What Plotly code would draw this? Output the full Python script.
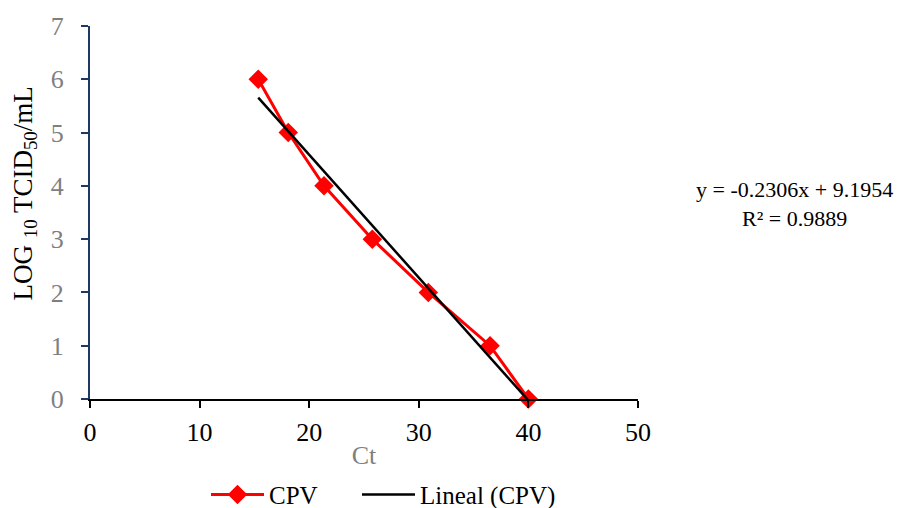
import plotly.graph_objects as go

# Data
ct_values = [15.35, 18.09, 21.35, 25.76, 30.87, 36.5, 40.0]
log_titer = [6, 5, 4, 3, 2, 1, 0]

# Linear trendline reported on the chart
slope = -0.2306
intercept = 9.1954
r_squared = 0.9889

x_ticks = [0, 10, 20, 30, 40, 50]
y_ticks = [0, 1, 2, 3, 4, 5, 6, 7]

trend_x = [min(ct_values), max(ct_values)]
trend_y = [slope * v + intercept for v in trend_x]

FONT = "Liberation Serif, Times New Roman, serif"

fig = go.Figure()
fig.add_trace(go.Scatter(
    x=ct_values, y=log_titer, mode="lines+markers", name="CPV",
    line=dict(color="#FF0000", width=3),
    marker=dict(symbol="diamond", size=15, color="#FF0000"),
    cliponaxis=False, legend="legend",
))
fig.add_trace(go.Scatter(
    x=trend_x, y=trend_y, mode="lines", name="Lineal (CPV)",
    line=dict(color="#000000", width=2.5),
    cliponaxis=False, legend="legend2",
))

legend_common = dict(orientation="h", xanchor="left", y=-0.257, yanchor="middle",
                     font=dict(size=25, color="#000000", family=FONT), itemwidth=53,
                     tracegroupgap=0, bgcolor="rgba(0,0,0,0)")

fig.update_layout(
    width=898, height=508,
    margin=dict(l=90, r=260, t=26, b=109, autoexpand=False),
    paper_bgcolor="white", plot_bgcolor="white",
    font=dict(family=FONT, size=25, color="#000000"),
    showlegend=True,
    legend=dict(x=0.2117, **legend_common),
    legend2=dict(x=0.4872, **legend_common),
    xaxis=dict(
        range=[0, 50], tickvals=x_ticks, showgrid=False, zeroline=False,
        showline=True, linecolor="#000000", linewidth=2, automargin=False,
        ticks="outside", ticklen=7, tickwidth=2, tickcolor="#000000",
        tickfont=dict(size=26, color="#000000", family=FONT),
        ticklabelstandoff=2,
        title=dict(text="Ct", font=dict(size=26, color="#7F7F7F", family=FONT), standoff=0),
    ),
    yaxis=dict(
        range=[0, 7], tickvals=y_ticks, showgrid=False, zeroline=False,
        showline=True, linecolor="#203864", linewidth=2, automargin=False,
        ticks="outside", ticklen=7, tickwidth=2, tickcolor="#203864",
        tickfont=dict(size=26, color="#7F7F7F", family=FONT),
        ticklabelstandoff=12,
    ),
)

# y-axis title (placed slightly above the plot centre, as in the original)
fig.add_annotation(
    xref="paper", yref="paper", x=-0.1186, y=0.551, xanchor="center", yanchor="middle",
    text="LOG <sub>10</sub> TCID<sub>50</sub>/mL", textangle=-90, showarrow=False,
    font=dict(size=27, color="#000000", family=FONT),
)

fig.add_annotation(
    xref="paper", yref="paper", x=1.286, y=0.522, xanchor="center", yanchor="middle",
    text=f"y = {slope:.4f}x + {intercept:.4f}<br>R² = {r_squared:.4f}",
    showarrow=False, align="center",
    font=dict(size=22, color="#000000", family=FONT),
)

fig.write_html(
    "out.html",
    config={"displayModeBar": False},
    post_script="document.body.style.margin='0';document.body.style.overflow='hidden';",
)
